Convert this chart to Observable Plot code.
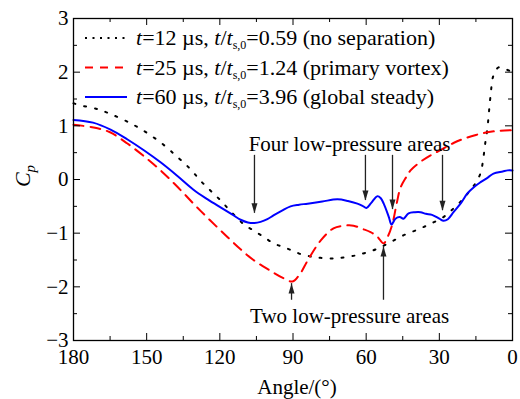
<!DOCTYPE html>
<html>
<head>
<meta charset="utf-8">
<script src="https://cdn.jsdelivr.net/npm/d3@7"></script>
<script src="https://cdn.jsdelivr.net/npm/@observablehq/plot@0.6"></script>
<style>
  html, body { margin: 0; padding: 0; background: white; }
  #chart { position: relative; width: 520px; height: 399px; }
</style>
</head>
<body>
<div id="chart"></div>
<script>
// ---- Data ----
const angle12 = [180, 177, 170, 164.8, 158, 151.3, 144, 137.4, 132, 128, 124, 119.7, 115, 110.3, 106.2, 102, 98, 93.9, 90, 86.2, 82, 78.7, 74, 70.5, 66, 63.1, 59, 55.5, 51.4, 48, 44.7, 39.8, 35.7, 32, 28.3, 24.2, 20, 17, 15.2, 13.1, 11.9, 11.1, 10.3, 9.0, 7.8, 5.7, 3.7, 0];
const cp12    = [1.42, 1.38, 1.31, 1.22, 1.08, 0.91, 0.68, 0.42, 0.19, -0.02, -0.20, -0.39, -0.62, -0.83, -0.95, -1.07, -1.19, -1.26, -1.33, -1.40, -1.44, -1.46, -1.47, -1.46, -1.43, -1.40, -1.35, -1.29, -1.20, -1.12, -1.04, -0.95, -0.87, -0.79, -0.70, -0.54, -0.35, -0.18, -0.07, 0.12, 0.42, 0.70, 0.95, 1.56, 1.94, 2.09, 2.07, 2.0];

const angle25 = [180, 171.8, 165, 157.9, 151, 144.3, 137.5, 130.8, 124, 116.9, 111.5, 106.2, 100, 93.9, 90.2, 87, 84, 78.7, 73.4, 69, 65.2, 61.5, 58.2, 55.5, 52.9, 51, 49.2, 47.5, 45.9, 43.5, 41.8, 37.7, 33.6, 29, 24.2, 20, 15, 10.3, 5, 0];
const cp25    = [1.02, 0.97, 0.88, 0.67, 0.43, 0.17, -0.13, -0.45, -0.76, -1.07, -1.30, -1.50, -1.68, -1.84, -1.90, -1.75, -1.51, -1.14, -0.91, -0.86, -0.86, -0.92, -0.98, -1.06, -1.19, -1.05, -0.82, -0.45, -0.15, 0.05, 0.17, 0.33, 0.45, 0.56, 0.68, 0.76, 0.83, 0.88, 0.91, 0.92];

const angle60 = [180, 172, 164.8, 158, 151, 144.3, 137.5, 130.8, 125, 119.7, 115, 111.5, 108.5, 105.8, 103.3, 100.5, 98, 94.5, 91, 87.5, 84, 78, 71.8, 67.5, 63.6, 61.5, 59.9, 58, 55.4, 54, 52.8, 50.7, 49.6, 48, 46.2, 44.7, 42.6, 40, 37.7, 35.5, 33, 30, 28.3, 26.5, 24.2, 21, 18.5, 15.5, 13.1, 10, 7.8, 4, 2, 0];
const cp60    = [1.11, 1.06, 0.93, 0.75, 0.54, 0.32, 0.07, -0.19, -0.37, -0.52, -0.65, -0.75, -0.80, -0.81, -0.79, -0.74, -0.67, -0.58, -0.50, -0.47, -0.45, -0.41, -0.37, -0.40, -0.45, -0.49, -0.53, -0.44, -0.31, -0.35, -0.45, -0.70, -0.84, -0.73, -0.70, -0.73, -0.63, -0.61, -0.61, -0.64, -0.66, -0.73, -0.77, -0.74, -0.61, -0.43, -0.26, -0.13, -0.05, 0.04, 0.11, 0.15, 0.17, 0.17];

const seriesTimes = ["12", "25", "60"];
const seriesRatios = ["0.59", "1.24", "3.96"];
const seriesNotes = ["(no separation)", "(primary vortex)", "(global steady)"];

const xMajor = [180, 150, 120, 90, 60, 30, 0];
const xMinor = [165, 135, 105, 75, 45, 15];
const yMajor = [-3, -2, -1, 0, 1, 2, 3];
const yMinor = [-2.5, -1.5, -0.5, 0.5, 1.5, 2.5];

// annotations
const annotTexts = ["Four low-pressure areas", "Two low-pressure areas"];
const annotX = [66.8, 66.8];
const annotY = [0.65, -2.55];
const fourArrowX = [105.8, 60.3, 49.2, 28.7];
const fourArrowTip = [-0.63, -0.39, -0.56, -0.58];
const fourArrowTail = 0.45;
const twoArrowX = [90.6, 52.9];
const twoArrowTip = [-1.94, -1.25];
const twoArrowTail = -2.25;

// ---- Build ----
const toRows = (a, c) => a.map((x, i) => ({angle: x, cp: c[i]}));
const d12 = toRows(angle12, cp12), d25 = toRows(angle25, cp25), d60 = toRows(angle60, cp60);

const W = 520, H = 399, mL = 73, mR = 8, mT = 18, mB = 59;
const pw = W - mL - mR, ph = H - mT - mB;
const font = "'Liberation Serif', 'Times New Roman', serif";
const FS = 21;

const headDown = {draw(ctx) { ctx.moveTo(0, 0); ctx.lineTo(-3, -10); ctx.lineTo(3, -10); ctx.closePath(); }};
const headUp = {draw(ctx) { ctx.moveTo(0, 0); ctx.lineTo(-3, 10); ctx.lineTo(3, 10); ctx.closePath(); }};

const fourArrows = fourArrowX.map((x, i) => ({x, y1: fourArrowTail, y2: fourArrowTip[i]}));
const twoArrows = twoArrowX.map((x, i) => ({x, y1: twoArrowTail, y2: twoArrowTip[i]}));
const annots = annotTexts.map((t, i) => ({t, x: annotX[i], y: annotY[i]}));
const fmt = d => (d < 0 ? "\u2212" + Math.abs(d) : String(d));

const chart = Plot.plot({
  width: W, height: H,
  marginLeft: mL, marginRight: mR, marginTop: mT, marginBottom: mB,
  style: {fontFamily: font, fontSize: FS + "px", background: "white", color: "black", overflow: "visible"},
  x: {domain: [180, 0], ticks: xMajor, tickSize: 0, tickPadding: 9, label: null, tickFormat: fmt},
  y: {domain: [-3, 3], ticks: yMajor, tickSize: 0, tickPadding: 5, label: null, tickFormat: fmt},
  marks: [
    Plot.line(d12, {x: "angle", y: "cp", stroke: "black", strokeWidth: 2, strokeDasharray: "2,9", curve: "catmull-rom"}),
    Plot.line(d25, {x: "angle", y: "cp", stroke: "#ff0000", strokeWidth: 2, strokeDasharray: "10,7", curve: "catmull-rom"}),
    Plot.line(d60, {x: "angle", y: "cp", stroke: "#0000ff", strokeWidth: 2, curve: "catmull-rom"}),
    Plot.ruleX(fourArrows, {x: "x", y1: "y1", y2: "y2", stroke: "#222", strokeWidth: 1.3}),
    Plot.dot(fourArrows, {x: "x", y: "y2", symbol: headDown, fill: "#222", stroke: "none"}),
    Plot.ruleX(twoArrows, {x: "x", y1: "y1", y2: "y2", stroke: "#222", strokeWidth: 1.3}),
    Plot.dot(twoArrows, {x: "x", y: "y2", symbol: headUp, fill: "#222", stroke: "none"}),
    Plot.text(annots, {x: "x", y: "y", text: "t", fontSize: FS, fill: "black"}),
    // inward ticks on all four sides
    Plot.tickX(xMajor, {x: d => d, insetTop: ph - 7, stroke: "black"}),
    Plot.tickX(xMajor, {x: d => d, insetBottom: ph - 7, stroke: "black"}),
    Plot.tickX(xMinor, {x: d => d, insetTop: ph - 4, stroke: "black"}),
    Plot.tickX(xMinor, {x: d => d, insetBottom: ph - 4, stroke: "black"}),
    Plot.tickY(yMajor, {y: d => d, insetRight: pw - 7, stroke: "black"}),
    Plot.tickY(yMajor, {y: d => d, insetLeft: pw - 7, stroke: "black"}),
    Plot.tickY(yMinor, {y: d => d, insetRight: pw - 4, stroke: "black"}),
    Plot.tickY(yMinor, {y: d => d, insetLeft: pw - 4, stroke: "black"}),
    Plot.frame({stroke: "black", strokeWidth: 1.3})
  ]
});

const svg = d3.select(chart);

// Legend
const legendStyles = [
  {stroke: "black", dash: "2,5.5"},
  {stroke: "#ff0000", dash: "8,7"},
  {stroke: "#0000ff", dash: null}
];
const LFS = 22;
const lg = svg.append("g").attr("font-family", font).attr("font-size", LFS).attr("text-anchor", "start");
seriesTimes.forEach((tm, i) => {
  const yy = 38 + i * 29.5;
  const ln = lg.append("line").attr("x1", 85).attr("x2", 127).attr("y1", yy).attr("y2", yy)
    .attr("stroke", legendStyles[i].stroke).attr("stroke-width", 2);
  if (legendStyles[i].dash) ln.attr("stroke-dasharray", legendStyles[i].dash);
  const t = lg.append("text").attr("x", 136).attr("y", yy + 7).attr("text-anchor", "start");
  t.append("tspan").attr("font-style", "italic").text("t");
  t.append("tspan").text(`=${tm} µs, `);
  t.append("tspan").attr("font-style", "italic").text("t");
  t.append("tspan").text("/");
  t.append("tspan").attr("font-style", "italic").text("t");
  t.append("tspan").attr("font-size", 12).attr("dy", 4).text("s,0");
  t.append("tspan").attr("dy", -4).text(`=${seriesRatios[i]} ${seriesNotes[i]}`);
});

// Y axis title C_p
const yt = svg.append("text").attr("font-family", font).attr("font-size", 22)
  .attr("transform", "translate(30,176) rotate(-90)").attr("text-anchor", "middle");
yt.append("tspan").attr("font-style", "italic").text("C");
yt.append("tspan").attr("font-style", "italic").attr("font-size", 15).attr("dy", 5).text("p");

// X axis title
svg.append("text").attr("font-family", font).attr("font-size", FS)
  .attr("x", 297).attr("y", 394).attr("text-anchor", "middle").text("Angle/(°)");

document.getElementById("chart").appendChild(chart);
</script>
</body>
</html>
